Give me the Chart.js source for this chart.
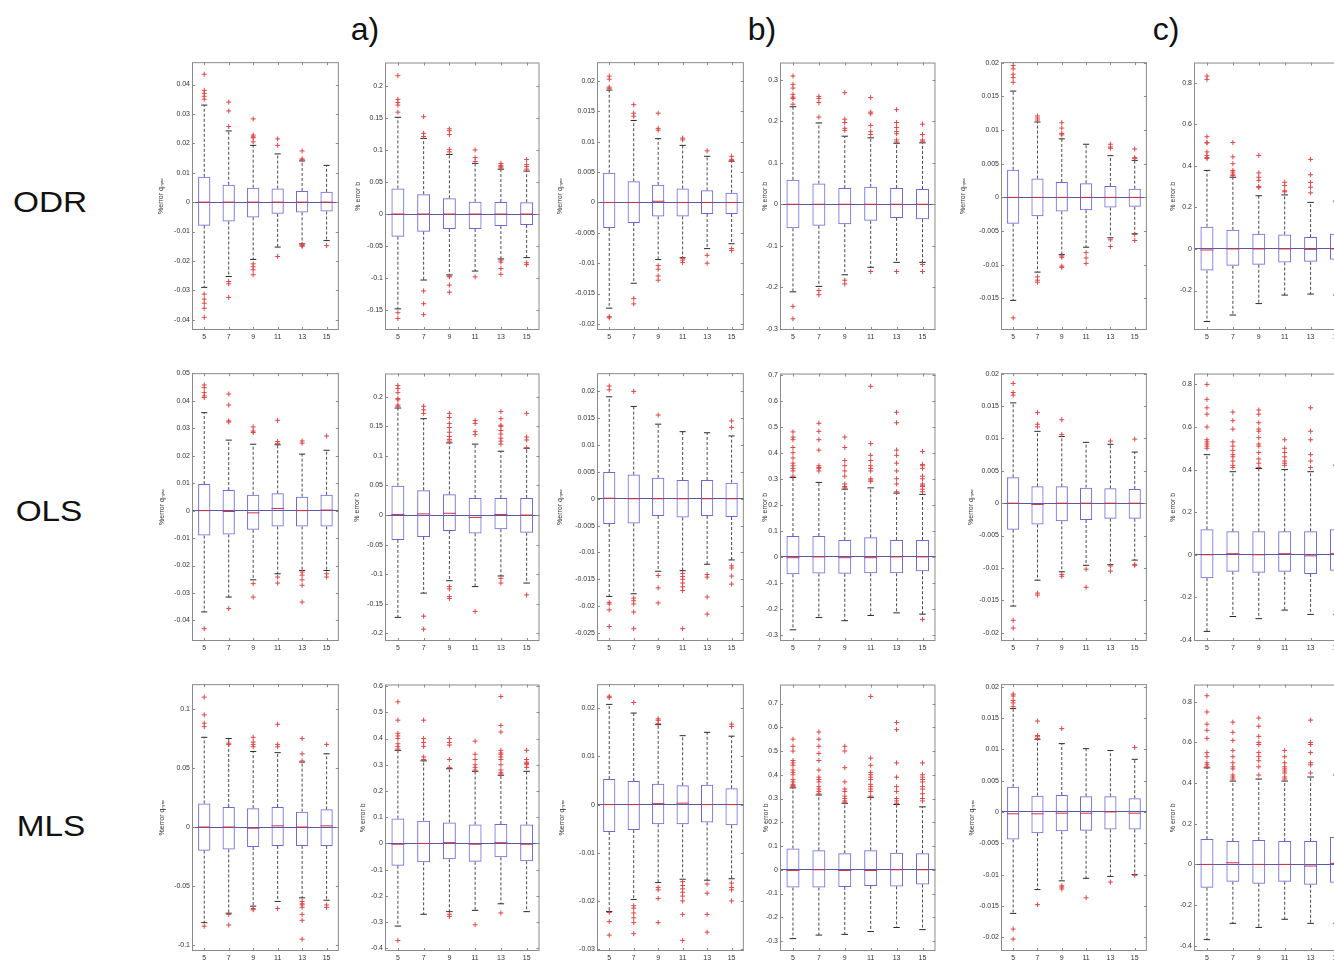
<!DOCTYPE html>
<html>
<head>
<meta charset="utf-8">
<title>Box plots: % error per window size</title>
<script src="https://cdn.jsdelivr.net/npm/chart.js@4.4.1/dist/chart.umd.min.js"></script>
<style>
    html, body { margin: 0; padding: 0; background: #fff; overflow: hidden; }
    body { position: relative; width: 1334px; height: 962px; font-family: "Liberation Sans", Arial, sans-serif; color: #111; }
    canvas { position: absolute; display: block; }
    .rowLabel { position: absolute; font-size: 29px; line-height: 1; white-space: nowrap; transform: translate(-50%, -50%) scaleX(1.15); }
    .colLabel { position: absolute; font-size: 32px; line-height: 1; white-space: nowrap; transform: translate(-50%, -50%); }
</style>
</head>
<body>

<div class="colLabel" style="left:365px;top:29px">a)</div>
<div class="colLabel" style="left:762px;top:29px">b)</div>
<div class="colLabel" style="left:1166px;top:29px">c)</div>

<div class="rowLabel" style="left:50px;top:202px">ODR</div>
<div class="rowLabel" style="left:49px;top:511px">OLS</div>
<div class="rowLabel" style="left:51px;top:826px">MLS</div>

<script>
// ---------------- Data ----------------
// window sizes on the x axis
const sizes = ['5', '7', '9', '11', '13', '15'];

// each box row: [lower whisker, q1, median, q3, upper whisker]
// ODR
const odrA_q_box = [
    [-0.029, -0.0080, 0, 0.0086, 0.033],
    [-0.0253, -0.0066, 0, 0.0059, 0.0242],
    [-0.0195, -0.0052, 0, 0.0049, 0.0193],
    [-0.0153, -0.0040, 0, 0.0046, 0.0164],
    [-0.0142, -0.0035, 0, 0.0038, 0.0140],
    [-0.0131, -0.0032, 0, 0.0035, 0.0125]
];
const odrA_q_out = [
    [0.0435, 0.038, 0.037, 0.036, 0.035, -0.0313, -0.033, -0.0344, -0.0361, -0.0392],
    [0.034, 0.031, 0.0257, -0.027, -0.0278, -0.0324],
    [0.0283, 0.0228, 0.0222, 0.0219, 0.0205, -0.021, -0.022, -0.023, -0.0247],
    [0.0215, 0.0193, -0.0185],
    [0.0174, 0.0147, 0.0144, -0.0145, -0.0148, -0.015],
    [-0.0148]
];
const odrA_b_box = [
    [-0.148, -0.0354, 0, 0.040, 0.151],
    [-0.103, -0.0276, 0, 0.031, 0.118],
    [-0.095, -0.0234, 0, 0.0245, 0.093],
    [-0.089, -0.0234, 0, 0.0193, 0.079],
    [-0.070, -0.0188, 0, 0.0188, 0.070],
    [-0.068, -0.017, 0, 0.0185, 0.067]
];
const odrA_b_out = [
    [0.216, 0.179, 0.174, 0.170, 0.159, -0.154, -0.163],
    [0.152, 0.126, 0.121, -0.12, -0.14, -0.157],
    [0.133, 0.130, 0.124, 0.101, 0.097, -0.097, -0.098, -0.111, -0.122],
    [0.1, 0.088, 0.082, -0.098],
    [0.079, 0.076, 0.074, 0.072, -0.072, -0.075, -0.085, -0.094],
    [0.085, 0.077, 0.074, 0.07, -0.076, -0.079]
];
const odrB_q_box = [
    [-0.0174, -0.0042, 0, 0.0049, 0.0185],
    [-0.0133, -0.0034, 0, 0.0035, 0.0135],
    [-0.0094, -0.0023, 0.0002, 0.0029, 0.0105],
    [-0.0091, -0.0023, 0, 0.0023, 0.0094],
    [-0.0076, -0.0019, 0, 0.0020, 0.0076],
    [-0.0068, -0.0019, 0, 0.0016, 0.0068]
];
const odrB_q_out = [
    [0.0208, 0.0203, 0.019, 0.0188, -0.0188, -0.019],
    [0.0161, 0.0147, 0.0142, -0.0158, -0.0167],
    [0.0147, 0.0122, 0.0119, -0.0104, -0.011, -0.0121, -0.0128],
    [0.0106, 0.0103, -0.0092, -0.0095, -0.0099],
    [0.0085, -0.0087, -0.01],
    [0.0076, 0.0071, 0.0069, -0.0076, -0.0079]
];
const odrB_b_box = [
    [-0.211, -0.058, 0, 0.059, 0.235],
    [-0.198, -0.052, 0, 0.05, 0.196],
    [-0.17, -0.048, 0, 0.039, 0.164],
    [-0.152, -0.04, 0, 0.042, 0.16],
    [-0.14, -0.033, 0, 0.039, 0.147],
    [-0.14, -0.036, 0, 0.037, 0.148]
];
const odrB_b_out = [
    [0.309, 0.289, 0.28, 0.265, 0.258, 0.255, 0.241, -0.246, -0.276],
    [0.26, 0.255, 0.245, 0.21, -0.208, -0.218],
    [0.269, 0.205, 0.197, 0.183, 0.178, -0.183, -0.192],
    [0.257, 0.222, 0.218, 0.19, 0.175, 0.168, -0.162],
    [0.228, 0.197, 0.185, 0.175, 0.17, 0.155, 0.15, -0.162],
    [0.193, 0.168, 0.155, 0.152, -0.145, -0.162]
];
const odrC_q_box = [
    [-0.0153, -0.0039, 0, 0.0041, 0.0158],
    [-0.0111, -0.0028, 0, 0.0028, 0.0112],
    [-0.0085, -0.0021, 0, 0.0023, 0.0087],
    [-0.0074, -0.0019, 0, 0.0021, 0.0079],
    [-0.006, -0.0015, 0, 0.0017, 0.0062],
    [-0.0054, -0.0014, 0, 0.0013, 0.0055]
];
const odrC_q_out = [
    [0.0196, 0.0191, 0.0183, 0.0178, 0.0171, -0.0179],
    [0.0121, 0.0118, 0.0115, -0.0118, -0.0123, -0.0126],
    [0.0111, 0.0103, 0.0095, 0.0093, -0.0087, -0.0089, -0.0102, -0.0104],
    [-0.0082, -0.009, -0.0098],
    [0.0079, 0.0075, 0.0073, -0.0063, -0.0073],
    [0.0072, 0.0059, 0.0058, -0.0055, -0.0064]
];
const odrC_b_box = [
    [-0.349, -0.104, -0.005, 0.107, 0.378],
    [-0.318, -0.081, 0, 0.092, 0.345],
    [-0.263, -0.076, 0, 0.073, 0.256],
    [-0.222, -0.065, 0, 0.07, 0.26],
    [-0.217, -0.062, -0.002, 0.057, 0.224],
    [-0.222, -0.052, 0, 0.073, 0.23]
];
const odrC_b_out = [
    [0.832, 0.816, 0.54, 0.512, 0.51, 0.467, 0.45, 0.44, 0.435],
    [0.512, 0.443, 0.41, 0.378, 0.37, 0.36, 0.353],
    [0.45, 0.366, 0.345, 0.33, 0.3, 0.295],
    [0.321, 0.305, 0.28, 0.275],
    [0.431, 0.357, 0.32, 0.297, 0.27],
    [0.353, 0.34, 0.284]
];

// OLS
const olsA_q_box = [
    [-0.0369, -0.0091, 0, 0.0097, 0.0357],
    [-0.0315, -0.0087, -0.0003, 0.0075, 0.0257],
    [-0.0252, -0.007, -0.0008, 0.0058, 0.0242],
    [-0.023, -0.0058, 0.0008, 0.0063, 0.024],
    [-0.0218, -0.0058, 0, 0.0051, 0.0206],
    [-0.0218, -0.0058, 0.0002, 0.0058, 0.022]
];
const olsA_q_out = [
    [0.0458, 0.0448, 0.043, 0.0418, 0.0412, -0.043],
    [0.0425, 0.0385, 0.0327, 0.0323, -0.0357],
    [0.0305, 0.029, 0.0285, -0.0266, -0.0315],
    [0.0329, 0.0252, 0.0245, -0.0242, -0.0264],
    [0.0254, 0.0246, -0.0224, -0.0235, -0.0252, -0.0272, -0.0333],
    [0.0272, -0.023, -0.0242]
];
const olsA_b_box = [
    [-0.173, -0.042, 0.001, 0.0496, 0.181],
    [-0.132, -0.037, 0.002, 0.042, 0.163],
    [-0.111, -0.027, 0.003, 0.035, 0.122],
    [-0.121, -0.031, -0.004, 0.029, 0.12],
    [-0.103, -0.024, 0.001, 0.029, 0.108],
    [-0.115, -0.03, 0, 0.029, 0.113]
];
const olsA_b_out = [
    [0.219, 0.214, 0.207, 0.197, 0.195, 0.186, 0.184],
    [0.184, 0.178, 0.172, -0.171, -0.193],
    [0.172, 0.165, 0.155, 0.148, 0.14, 0.133, 0.128, 0.125, -0.121, -0.125, -0.138, -0.141],
    [0.16, 0.155, 0.141, 0.136, -0.163],
    [0.175, 0.163, 0.152, 0.15, 0.143, 0.137, 0.13, 0.125, 0.12, -0.107, -0.115],
    [0.172, 0.132, 0.127, 0.114, -0.135]
];
const olsB_q_box = [
    [-0.0182, -0.0047, 0.0001, 0.005, 0.019],
    [-0.0177, -0.0046, 0, 0.0045, 0.0172],
    [-0.0135, -0.0032, 0, 0.0039, 0.0139],
    [-0.0134, -0.0035, 0, 0.0035, 0.0125],
    [-0.0122, -0.0032, 0, 0.0035, 0.0123],
    [-0.0114, -0.0034, 0, 0.003, 0.0117]
];
const olsB_q_out = [
    [0.021, 0.0203, -0.0193, -0.0196, -0.0207, -0.0238],
    [0.020, -0.0185, -0.019, -0.0196, -0.0211, -0.0242],
    [0.0156, -0.0143, -0.0166, -0.0194],
    [-0.0139, -0.0145, -0.015, -0.0157, -0.0164, -0.0171, -0.0242],
    [-0.0141, -0.0146, -0.0183, -0.0215],
    [0.0145, 0.0133, -0.0125, -0.0129, -0.0144, -0.0159]
];
const olsB_b_box = [
    [-0.28, -0.067, -0.003, 0.08, 0.305],
    [-0.233, -0.064, 0, 0.08, 0.286],
    [-0.245, -0.065, -0.003, 0.065, 0.26],
    [-0.225, -0.063, -0.003, 0.075, 0.265],
    [-0.215, -0.063, 0, 0.065, 0.245],
    [-0.22, -0.055, 0, 0.065, 0.24]
];
const olsB_b_out = [
    [0.48, 0.46, 0.45, 0.42, 0.4, 0.38, 0.36, 0.35, 0.34, 0.33, 0.31],
    [0.513, 0.482, 0.45, 0.41, 0.35, 0.343, 0.34, 0.33],
    [0.46, 0.42, 0.37, 0.35, 0.33, 0.31, 0.28, 0.27, 0.265],
    [0.655, 0.435, 0.39, 0.37, 0.35, 0.34, 0.33, 0.3, 0.295, 0.29],
    [0.555, 0.515, 0.41, 0.39, 0.36, 0.33, 0.3, 0.28, 0.25],
    [0.405, 0.355, 0.35, 0.34, 0.31, 0.3, 0.28, 0.275, 0.27, 0.26, 0.25, -0.24]
];
const olsC_q_box = [
    [-0.0159, -0.0041, 0, 0.004, 0.0155],
    [-0.0119, -0.0033, -0.0002, 0.0026, 0.0111],
    [-0.0106, -0.0028, 0, 0.0026, 0.0103],
    [-0.0096, -0.0026, 0, 0.0024, 0.0094],
    [-0.0095, -0.0024, 0, 0.0023, 0.0091],
    [-0.0088, -0.0024, 0, 0.0022, 0.0079]
];
const olsC_q_out = [
    [0.0185, 0.0171, 0.0167, -0.0181, -0.0193],
    [0.014, 0.0122, 0.0118, -0.0139, -0.0142],
    [0.0129, 0.0106, -0.011, -0.0113],
    [-0.0102, -0.013],
    [0.0096, -0.0097, -0.0105],
    [0.0099, -0.0095, -0.0096]
];
const olsC_b_box = [
    [-0.36, -0.11, 0, 0.12, 0.47],
    [-0.29, -0.08, 0.005, 0.11, 0.39],
    [-0.3, -0.085, 0, 0.11, 0.405],
    [-0.26, -0.08, 0.005, 0.11, 0.4],
    [-0.28, -0.09, -0.005, 0.11, 0.39],
    [-0.28, -0.075, 0.005, 0.12, 0.42]
];
const olsC_b_out = [
    [0.8, 0.73, 0.69, 0.66, 0.6, 0.54, 0.53, 0.52, 0.51, 0.5],
    [0.67, 0.63, 0.59, 0.53, 0.51, 0.49, 0.47, 0.46, 0.44, 0.42, 0.41],
    [0.68, 0.66, 0.62, 0.59, 0.58, 0.55, 0.52, 0.51, 0.48, 0.45, 0.43, 0.41],
    [0.54, 0.5, 0.48, 0.46, 0.44, 0.43, 0.42],
    [0.69, 0.58, 0.54, 0.47, 0.44, 0.41],
    [0.52, 0.51, 0.49, 0.47, 0.46, 0.43]
];

// MLS
const mlsA_q_box = [
    [-0.081, -0.02, 0, 0.02, 0.076],
    [-0.073, -0.019, 0, 0.017, 0.075],
    [-0.067, -0.017, -0.001, 0.016, 0.064],
    [-0.063, -0.016, 0.001, 0.017, 0.063],
    [-0.06, -0.016, 0, 0.013, 0.055],
    [-0.062, -0.016, 0.001, 0.015, 0.062]
];
const mlsA_q_out = [
    [0.11, 0.095, 0.088, 0.085, -0.084],
    [0.071, 0.07, -0.074, -0.083],
    [0.076, 0.072, 0.07, 0.068, -0.069, -0.07],
    [0.087, 0.07, 0.068, -0.069],
    [0.075, 0.062, 0.056, -0.063, -0.065, -0.066, -0.068, -0.074, -0.079, -0.095],
    [0.07, -0.066, -0.068]
];
const mlsA_b_box = [
    [-0.315, -0.085, -0.003, 0.095, 0.355],
    [-0.27, -0.072, 0, 0.087, 0.315],
    [-0.26, -0.06, 0.003, 0.08, 0.285],
    [-0.255, -0.07, -0.003, 0.072, 0.275],
    [-0.23, -0.053, 0.003, 0.074, 0.26],
    [-0.26, -0.068, -0.003, 0.072, 0.275]
];
const mlsA_b_out = [
    [0.54, 0.47, 0.42, 0.41, 0.4, 0.38, 0.37, 0.36, -0.37],
    [0.47, 0.4, 0.385, 0.37, 0.33, 0.32],
    [0.4, 0.385, 0.375, 0.32, 0.29, -0.27, -0.278],
    [0.39, 0.34, 0.32, 0.3, 0.29, 0.28, -0.31],
    [0.56, 0.45, 0.425, 0.355, 0.345, 0.34, 0.33, 0.32, 0.3, 0.28, 0.27, 0.265, -0.265],
    [0.355, 0.32, 0.31, 0.305, 0.3, 0.29]
];
const mlsB_q_box = [
    [-0.0222, -0.0057, 0, 0.0053, 0.0208],
    [-0.0197, -0.0053, 0, 0.0049, 0.019],
    [-0.0162, -0.0041, 0.0002, 0.0043, 0.0166],
    [-0.0155, -0.0041, 0.0003, 0.004, 0.0143],
    [-0.0157, -0.0037, 0, 0.0041, 0.015],
    [-0.0154, -0.0043, 0, 0.0034, 0.0142]
];
const mlsB_q_out = [
    [0.0225, 0.0222, -0.0224, -0.0243, -0.0271],
    [0.0212, -0.021, -0.0215, -0.0225, -0.0235, -0.0245, -0.0268],
    [0.0178, 0.0175, 0.0168, -0.0172, -0.0177, -0.0195, -0.0245],
    [-0.016, -0.0168, -0.0175, -0.0182, -0.019, -0.02, -0.0228, -0.0282],
    [-0.0165, -0.0184, -0.0228, -0.0265],
    [0.0167, 0.0162, -0.0163, -0.0172, -0.0177, -0.02]
];
const mlsB_b_box = [
    [-0.29, -0.075, -0.003, 0.09, 0.345],
    [-0.275, -0.075, 0, 0.082, 0.315],
    [-0.272, -0.072, -0.003, 0.07, 0.28],
    [-0.26, -0.068, -0.003, 0.082, 0.305],
    [-0.243, -0.07, 0, 0.072, 0.275],
    [-0.252, -0.062, 0, 0.07, 0.265]
];
const mlsB_b_out = [
    [0.55, 0.52, 0.5, 0.46, 0.45, 0.44, 0.42, 0.41, 0.4, 0.38, 0.37, 0.36, 0.355, 0.35],
    [0.58, 0.55, 0.52, 0.49, 0.46, 0.42, 0.39, 0.38, 0.37, 0.35, 0.34, 0.33, 0.32],
    [0.52, 0.5, 0.43, 0.37, 0.34, 0.33, 0.31, 0.3, 0.29, 0.285],
    [0.73, 0.47, 0.44, 0.41, 0.4, 0.39, 0.38, 0.36, 0.35, 0.34, 0.33, 0.31],
    [0.62, 0.59, 0.45, 0.39, 0.35, 0.33, 0.3, 0.29, 0.28],
    [0.45, 0.4, 0.39, 0.38, 0.37, 0.35, 0.34, 0.32, 0.3, 0.29]
];
const mlsC_q_box = [
    [-0.0162, -0.0044, -0.0003, 0.004, 0.0165],
    [-0.0124, -0.0034, -0.0003, 0.0026, 0.0116],
    [-0.011, -0.0031, -0.0002, 0.0027, 0.0109],
    [-0.0106, -0.003, -0.0002, 0.0025, 0.0101],
    [-0.0103, -0.0028, 0, 0.0025, 0.0098],
    [-0.01, -0.0028, -0.0002, 0.0022, 0.0084]
];
const mlsC_q_out = [
    [0.0188, 0.0185, 0.0178, 0.0174, 0.0168, -0.0187, -0.0203],
    [0.0145, 0.0122, 0.012, 0.0117, -0.0148],
    [0.0133, -0.0118, -0.012, -0.0123],
    [-0.0137],
    [-0.0112],
    [0.0103, -0.0101]
];
const mlsC_b_box = [
    [-0.37, -0.115, 0, 0.125, 0.475],
    [-0.29, -0.085, 0.008, 0.115, 0.41],
    [-0.31, -0.095, 0, 0.12, 0.42],
    [-0.27, -0.085, 0, 0.115, 0.41],
    [-0.29, -0.1, -0.008, 0.115, 0.43],
    [-0.29, -0.09, 0.005, 0.135, 0.44]
];
const mlsC_b_out = [
    [0.83, 0.75, 0.69, 0.66, 0.62, 0.55, 0.53, 0.5, 0.49, 0.48],
    [0.7, 0.65, 0.61, 0.56, 0.53, 0.5, 0.48, 0.47, 0.44, 0.43, 0.42],
    [0.72, 0.68, 0.63, 0.6, 0.59, 0.55, 0.53, 0.51, 0.48, 0.44],
    [0.56, 0.53, 0.5, 0.48, 0.47, 0.46, 0.45, 0.43, 0.42],
    [0.71, 0.6, 0.59, 0.55, 0.5, 0.49, 0.45],
    [0.54, 0.53, 0.52, 0.5, 0.47, 0.46]
];

const Q_LABEL = '%error qₘₐₓ';
const B_LABEL = '% error b';

// axis limits + tick step for every panel
const panels = [
    { row: 0, col: 0, box: odrA_q_box, out: odrA_q_out, min: -0.0435, max: 0.0476, step: 0.01, label: Q_LABEL },
    { row: 0, col: 1, box: odrA_b_box, out: odrA_b_out, min: -0.181, max: 0.2365, step: 0.05, label: B_LABEL },
    { row: 0, col: 2, box: odrB_q_box, out: odrB_q_out, min: -0.021, max: 0.0231, step: 0.005, label: Q_LABEL },
    { row: 0, col: 3, box: odrB_b_box, out: odrB_b_out, min: -0.303, max: 0.3415, step: 0.1, label: B_LABEL },
    { row: 0, col: 4, box: odrC_q_box, out: odrC_q_out, min: -0.0197, max: 0.0201, step: 0.005, label: Q_LABEL },
    { row: 0, col: 5, box: odrC_b_box, out: odrC_b_out, min: -0.39, max: 0.897, step: 0.2, label: B_LABEL },

    { row: 1, col: 0, box: olsA_q_box, out: olsA_q_out, min: -0.0475, max: 0.0501, step: 0.01, label: Q_LABEL },
    { row: 1, col: 1, box: olsA_b_box, out: olsA_b_out, min: -0.213, max: 0.2394, step: 0.05, label: B_LABEL },
    { row: 1, col: 2, box: olsB_q_box, out: olsB_q_out, min: -0.0265, max: 0.0234, step: 0.005, label: Q_LABEL },
    { row: 1, col: 3, box: olsB_b_box, out: olsB_b_out, min: -0.323, max: 0.704, step: 0.1, label: B_LABEL },
    { row: 1, col: 4, box: olsC_q_box, out: olsC_q_out, min: -0.0213, max: 0.0201, step: 0.005, label: Q_LABEL },
    { row: 1, col: 5, box: olsC_b_box, out: olsC_b_out, min: -0.405, max: 0.851, step: 0.2, label: B_LABEL },

    { row: 2, col: 0, box: mlsA_q_box, out: mlsA_q_out, min: -0.105, max: 0.121, step: 0.05, label: Q_LABEL },
    { row: 2, col: 1, box: mlsA_b_box, out: mlsA_b_out, min: -0.41, max: 0.606, step: 0.1, label: B_LABEL },
    { row: 2, col: 2, box: mlsB_q_box, out: mlsB_q_out, min: -0.0304, max: 0.025, step: 0.01, label: Q_LABEL },
    { row: 2, col: 3, box: mlsB_b_box, out: mlsB_b_out, min: -0.342, max: 0.78, step: 0.1, label: B_LABEL },
    { row: 2, col: 4, box: mlsC_q_box, out: mlsC_q_out, min: -0.0222, max: 0.0204, step: 0.005, label: Q_LABEL },
    { row: 2, col: 5, box: mlsC_b_box, out: mlsC_b_out, min: -0.426, max: 0.885, step: 0.2, label: B_LABEL }
];

// ---------------- Layout ----------------
const colLeft = [192, 385, 597, 780, 1001, 1194];
const colWidth = [148, 156, 148, 157, 147, 157];
const rowTop = [62, 373, 684];
const rowHeight = [268, 268, 267];
// distance from the plot frame to the y title, per panel
const titleGap = [31, 27, 37, 15, 38, 21, 30, 28, 37, 15, 30, 21, 30, 22, 35, 14, 29, 21];

const PAD_TOP = 7, PAD_RIGHT = 6, X_AXIS_H = 14;

const BOX = '#6a6ad6';
const MED = '#cc3344';
const ZERO = '#5b56aa';
const WHISK = '#4a4a4a';
const CAP = '#2a2a2a';
const OUT = '#d94848';
const FRAME = '#8a8a8a';
const TEXT = '#333';
const FONT = "'Liberation Sans', Arial, sans-serif";

// axis box with small inward ticks on all four sides
const framePlugin = {
    id: 'frame',
    afterDraw(chart) {
        const { ctx, chartArea: a, scales: { x, y } } = chart;
        ctx.save();
        ctx.strokeStyle = FRAME;
        ctx.lineWidth = 1;
        ctx.strokeRect(a.left + 0.5, a.top + 0.5, a.width - 1, a.height - 1);
        ctx.beginPath();
        y.ticks.forEach(t => {
            const p = Math.round(y.getPixelForValue(t.value)) + 0.5;
            ctx.moveTo(a.left, p); ctx.lineTo(a.left + 3, p);
            ctx.moveTo(a.right, p); ctx.lineTo(a.right - 3, p);
        });
        x.ticks.forEach((t, i) => {
            const p = Math.round(x.getPixelForTick(i)) + 0.5;
            ctx.moveTo(p, a.bottom); ctx.lineTo(p, a.bottom - 3);
            ctx.moveTo(p, a.top); ctx.lineTo(p, a.top + 3);
        });
        ctx.stroke();
        ctx.restore();
    }
};

function fmt(v) {
    return String(+v.toFixed(6));
}

panels.forEach(function(p, k) {
    const w = colWidth[p.col], h = rowHeight[p.row];
    const yw = Math.round(titleGap[k] + 6);

    const cv = document.createElement('canvas');
    cv.width = yw + w + PAD_RIGHT;
    cv.height = PAD_TOP + h + X_AXIS_H;
    cv.style.left = (colLeft[p.col] - yw) + 'px';
    cv.style.top = (rowTop[p.row] - PAD_TOP) + 'px';
    document.body.appendChild(cv);

    const halfBox = w / 6 * 0.25;

    let whiskers = [], caps = [], medians = [], outliers = [];
    p.box.forEach(function(b, i) {
        const x = sizes[i];
        whiskers.push({ x: x, y: b[3] }, { x: x, y: b[4] }, { x: x, y: null },
                      { x: x, y: b[1] }, { x: x, y: b[0] }, { x: x, y: null });
        caps.push({ x: x, y: b[0] }, { x: x, y: b[4] });
        medians.push({ x: x, y: b[2] });
        p.out[i].forEach(v => outliers.push({ x: x, y: v }));
    });

    new Chart(cv, {
        type: 'bar',
        data: {
            labels: sizes,
            datasets: [{
                type: 'line',
                data: medians,
                showLine: false,
                pointStyle: 'line',
                pointRadius: halfBox,
                pointBorderColor: MED,
                pointBorderWidth: 1
            }, {
                type: 'line',
                data: outliers,
                showLine: false,
                pointStyle: 'cross',
                pointRadius: 2.5,
                pointBorderColor: OUT,
                pointBorderWidth: 1
            }, {
                type: 'line',
                data: caps,
                showLine: false,
                pointStyle: 'line',
                pointRadius: halfBox / 2,
                pointBorderColor: CAP,
                pointBorderWidth: 1
            }, {
                type: 'line',
                data: whiskers,
                spanGaps: false,
                borderColor: WHISK,
                borderWidth: 1,
                borderDash: [3, 2],
                pointRadius: 0,
                fill: false
            }, {
                type: 'bar',
                data: p.box.map(b => [b[1], b[3]]),
                backgroundColor: 'rgba(0,0,0,0)',
                borderColor: BOX,
                borderWidth: 1,
                borderSkipped: false,
                barPercentage: 0.5,
                categoryPercentage: 1
            }]
        },
        options: {
            responsive: false,
            animation: false,
            devicePixelRatio: 1,
            layout: { padding: { top: PAD_TOP, right: PAD_RIGHT, left: 0, bottom: 0 } },
            plugins: { legend: { display: false }, tooltip: { enabled: false } },
            events: [],
            scales: {
                x: {
                    type: 'category',
                    offset: true,
                    grid: { display: false, drawTicks: false },
                    border: { display: false },
                    ticks: { color: TEXT, font: { family: FONT, size: 7 }, padding: 3, autoSkip: false, maxRotation: 0 },
                    afterFit: s => { s.height = X_AXIS_H; }
                },
                y: {
                    type: 'linear',
                    min: p.min,
                    max: p.max,
                    border: { display: false },
                    grid: {
                        drawTicks: false,
                        lineWidth: 1,
                        color: c => (c.tick && Math.abs(c.tick.value) < 1e-12) ? ZERO : 'rgba(0,0,0,0)'
                    },
                    ticks: {
                        stepSize: p.step,
                        includeBounds: false,
                        color: TEXT,
                        font: { family: FONT, size: 7 },
                        padding: 2,
                        callback: v => fmt(v)
                    },
                    title: {
                        display: true,
                        text: p.label,
                        color: TEXT,
                        font: { family: FONT, size: 7 },
                        padding: { top: 2, bottom: 0 }
                    },
                    afterFit: s => { s.width = yw; }
                }
            }
        },
        plugins: [framePlugin]
    });
});
</script>
</body>
</html>
